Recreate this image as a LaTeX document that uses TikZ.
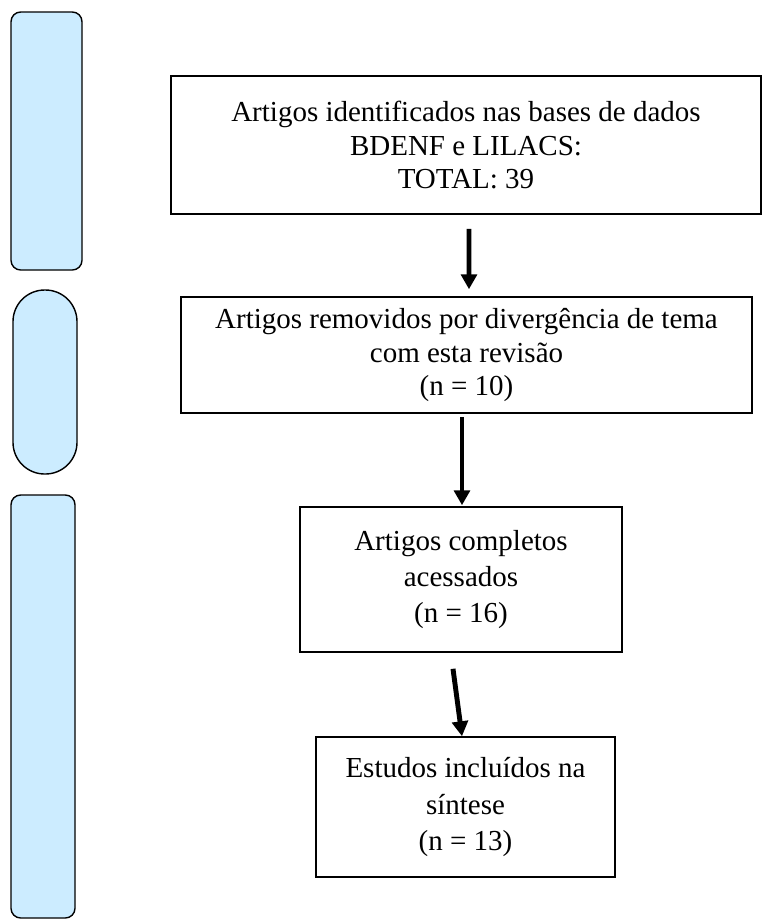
\documentclass[tikz,border=0pt]{standalone}
\usepackage{fontspec}
\setmainfont{Liberation Serif}
\usetikzlibrary{arrows.meta, calc}
\definecolor{sidefill}{RGB}{204,236,255}

\begin{document}
\begin{tikzpicture}[x=0.02cm, y=-0.02cm,
  box/.style={draw, line width=0.9pt, align=center, inner sep=0pt, font=\fontsize{16.5}{19}\selectfont},
  widebox/.style={box, font=\fontsize{16.5}{20.5}\selectfont},
  side/.style={draw, line width=0.8pt, fill=sidefill},
  flow/.style={line width=2.8pt, -{Triangle[width=9pt, length=8.5pt]}}
]
  \useasboundingbox (0,0) rectangle (762,921);

  % Side bars (left)
  \draw[side, rounded corners=5.5pt] (11,12) rectangle (82,270);
  \draw[side, rounded corners=18pt] (13,290) rectangle (77,474);
  \draw[side, rounded corners=5.5pt] (11,495) rectangle (75,918);

  % Flow boxes
  \node[box, minimum width=11.8cm, minimum height=2.76cm] (ident) at (466,145)
    {Artigos identificados nas bases de dados\\BDENF e LILACS:\\TOTAL: 39};
  \node[box, minimum width=11.42cm, minimum height=2.32cm] (remov) at (466.5,355)
    {Artigos removidos por divergência de tema\\com esta revisão\\(n = 10)};
  \node[widebox, minimum width=6.44cm, minimum height=2.9cm] (compl) at (461,579.5)
    {Artigos completos\\acessados\\(n = 16)};
  \node[widebox, minimum width=5.98cm, minimum height=2.8cm] (inclu) at (465.5,807)
    {Estudos incluídos na\\síntese\\(n = 13)};

  % Arrows
  \draw[flow] ($(ident.south)+(3,14)$) -- ($(remov.north)+(2.5,-7)$);
  \draw[flow] ($(remov.south)+(-4.5,3)$) -- ($(compl.north)+(1,-1)$);
  \draw[flow] ($(compl.south)+(-8,16)$) -- ($(inclu.north)+(-3.5,0)$);
\end{tikzpicture}
\end{document}
